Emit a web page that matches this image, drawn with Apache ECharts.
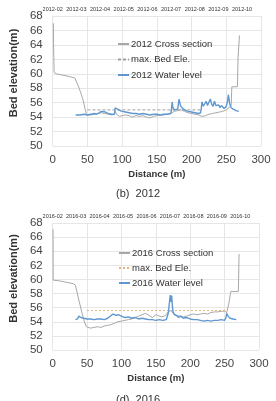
<!DOCTYPE html>
<html>
<head>
<meta charset="utf-8">
<script src="https://cdn.jsdelivr.net/npm/echarts@6/dist/echarts.min.js"></script>
<style>
  html, body { margin: 0; padding: 0; background: #fff; }
  #chart { width: 276px; height: 401px; }
</style>
</head>
<body>
<div id="chart"></div>
<script>
// top month labels
var months2012 = ['2012-02','2012-03','2012-04','2012-05','2012-06','2012-07','2012-08','2012-09','2012-10'];
var months2016 = ['2016-02','2016-03','2016-04','2016-05','2016-06','2016-07','2016-08','2016-09','2016-10'];

// 2012 [distance, elevation]
var cross2012 = [[1,67.0],[1.2,64.2],[2,60.2],[5,60.0],[15,59.8],[25,59.6],[32,59.4],[36,58.5],[40,57.5],[44,56.3],[47,55.0],[49,54.3],
  [55,54.3],[60,54.4],[65,54.5],[70,54.6],[75,54.5],[80,54.4],[85,54.3],[89,54.4],[90,54.8],[92,54.4],[96,54.1],[100,54.2],
  [105,54.3],[110,54.2],[115,54.0],[120,54.2],[125,54.1],[130,54.2],[135,54.0],[140,53.9],[145,54.1],[150,54.2],[155,54.3],
  [160,54.3],[165,54.4],[170,54.5],[175,54.8],[180,54.9],[185,55.0],[190,54.8],[195,54.6],[200,54.5],[205,54.4],[210,54.3],
  [215,54.1],[220,54.2],[225,54.4],[230,54.5],[235,54.6],[240,54.7],[245,54.8],[250,55.0],[254,55.3],[257,55.6],[258,58.2],
  [266,58.2],[267,62.3],[268,62.4],[269,65.3]];
var water2012 = [[33,54.3],[40,54.3],[45,54.4],[50,54.3],[55,54.4],[60,54.5],[63,54.4],[67,54.6],[70,54.8],[72,54.6],[76,54.7],
  [80,54.5],[85,54.4],[89,54.4],[90,55.3],[92,55.1],[95,55.0],[100,54.8],[105,54.7],[110,54.6],[115,54.5],[120,54.5],[125,54.4],
  [130,54.5],[135,54.4],[140,54.3],[145,54.4],[150,54.4],[155,54.3],[160,54.4],[165,54.4],[170,54.5],[171,55.0],[172,56.1],
  [173,55.4],[175,55.0],[177,54.9],[180,55.1],[182,56.5],[184,55.6],[187,55.2],[190,55.0],[195,54.8],[200,54.7],[205,54.6],
  [210,54.5],[213,54.6],[214,55.2],[215,56.1],[217,55.5],[219,55.3],[221,56.2],[223,55.6],[225,55.4],[227,56.5],[229,55.8],
  [231,55.5],[233,56.2],[235,55.6],[237,55.4],[239,55.7],[241,55.3],[243,55.6],[245,55.4],[247,55.2],[250,55.5],[252,56.3],
  [253,57.1],[255,55.8],[257,55.3],[260,55.1],[264,54.9],[268,54.8]];
var maxBed2012 = [[50,55.0],[215,55.0]];

// 2016 [distance, elevation]
var cross2016 = [[0.5,67.1],[0.7,59.9],[10,59.8],[20,59.6],[30,59.4],[33,59.2],[37,57.5],[42,55.5],[46,54.0],[49,53.3],[50,53.1],
  [55,53.1],[60,53.2],[65,53.3],[70,53.2],[75,53.4],[80,53.5],[85,53.6],[90,53.8],[95,54.0],[100,54.1],[105,54.2],[110,54.3],
  [115,54.4],[120,54.6],[125,54.8],[130,55.0],[135,55.2],[140,54.9],[145,54.6],[150,55.0],[153,54.9],[158,54.7],[162,54.8],
  [165,55.0],[168,55.4],[170,55.5],[172,55.6],[175,55.2],[180,54.9],[185,54.8],[190,54.7],[195,54.8],[200,55.0],[205,55.1],
  [210,55.0],[215,55.1],[220,55.2],[225,55.1],[230,55.3],[235,55.4],[240,55.4],[245,55.5],[250,55.5],[253,55.3],[256,56.5],
  [259,58.3],[270,58.3],[271,63.6]];
var water2016 = [[33,54.3],[36,54.4],[38,54.8],[41,54.6],[45,54.5],[50,54.4],[55,54.4],[60,54.3],[65,54.4],[70,54.4],[75,54.3],
  [80,54.5],[85,54.9],[88,55.1],[92,54.9],[95,55.0],[100,54.8],[105,54.6],[110,54.7],[115,54.5],[120,54.6],[125,54.4],[130,54.5],
  [135,54.4],[140,54.3],[145,54.3],[150,54.2],[155,54.3],[160,54.2],[165,54.3],[168,55.2],[170,55.4],[171,57.8],[172,56.8],
  [173,57.7],[174,56.3],[175,55.4],[177,55.0],[180,54.9],[183,54.6],[186,54.8],[190,54.5],[195,54.6],[200,54.4],[205,54.3],
  [210,54.3],[215,54.2],[220,54.1],[225,54.2],[230,54.1],[235,54.2],[240,54.2],[245,54.3],[250,54.2],[252,54.6],[253,55.2],
  [255,54.8],[258,54.5],[262,54.4],[267,54.3]];
var maxBed2016 = [[50,55.6],[253,55.6]];

var font = 'Liberation Sans';
var gridColor = '#e6e6e6';
var grayLine = '#a8a8a8';
var blueLine = '#5f97d0';

function bottomAxis(gridIndex) {
  return {
    type: 'value', gridIndex: gridIndex, min: 0, max: 300, interval: 50,
    name: 'Distance (m)', nameLocation: 'middle', nameGap: 23,
    nameTextStyle: { fontFamily: font, fontWeight: 'bold', fontSize: 9.5, color: '#333' },
    axisLine: { show: false }, axisTick: { show: false },
    axisLabel: { fontFamily: font, fontSize: 11.5, color: '#444', margin: 8 },
    splitLine: { show: true, lineStyle: { color: gridColor, width: 1 } }
  };
}
function monthAxis(gridIndex, months) {
  return {
    type: 'value', gridIndex: gridIndex, position: 'top', min: 0, max: 8.8, interval: 1,
    axisLine: { show: false }, axisTick: { show: false }, splitLine: { show: false },
    axisLabel: {
      fontFamily: font, fontSize: 5.5, color: '#333', margin: 4, showMaxLabel: false,
      formatter: function (v) { return Number.isInteger(v) ? months[v] : ''; }
    }
  };
}
function leftAxis(gridIndex) {
  return {
    type: 'value', gridIndex: gridIndex, min: 50, max: 68, interval: 2,
    name: 'Bed elevation(m)', nameLocation: 'middle', nameGap: 27,
    nameTextStyle: { fontFamily: font, fontWeight: 'bold', fontSize: 11, color: '#333', padding: [0, 0, 0, 16] },
    axisLine: { show: false }, axisTick: { show: false },
    axisLabel: { fontFamily: font, fontSize: 11.5, color: '#444', margin: 10 },
    splitLine: { show: true, lineStyle: { color: gridColor, width: 1 } }
  };
}

var option = {
  animation: false,
  backgroundColor: '#fff',
  title: [
    { text: '(b)  2012', left: 'center', top: 183, textStyle: { fontFamily: font, fontSize: 11, fontWeight: 'normal', color: '#333' } },
    { text: '(d)  2016', left: 'center', top: 389, textStyle: { fontFamily: font, fontSize: 11, fontWeight: 'normal', color: '#333' } }
  ],
  legend: [
    {
      orient: 'vertical', left: 112, top: 34, itemWidth: 11, itemHeight: 8, itemGap: 5.5,
      itemStyle: { opacity: 0 },
      textStyle: { fontFamily: font, fontSize: 9.5, color: '#333', padding: [0, 0, 0, -3] },
      data: ['2012 Cross section', 'max. Bed Ele.', '2012 Water level']
    },
    {
      orient: 'vertical', left: 113, top: 243, itemWidth: 11, itemHeight: 8, itemGap: 5,
      itemStyle: { opacity: 0 },
      textStyle: { fontFamily: font, fontSize: 9.5, color: '#333', padding: [0, 0, 0, -3] },
      formatter: function (name) { return name.replace(' (2016)', ''); },
      data: ['2016 Cross section', 'max. Bed Ele. (2016)', '2016 Water level']
    }
  ],
  grid: [
    { left: 40, top: 16, width: 221, height: 130 },
    { left: 41, top: 223, width: 218, height: 127 }
  ],
  xAxis: [bottomAxis(0), monthAxis(0, months2012), bottomAxis(1), monthAxis(1, months2016)],
  yAxis: [leftAxis(0), leftAxis(1)],
  series: [
    { name: '2012 Cross section', type: 'line', xAxisIndex: 0, yAxisIndex: 0, data: cross2012, symbol: 'none',
      lineStyle: { color: grayLine, width: 1 }, itemStyle: { color: grayLine } },
    { name: 'max. Bed Ele.', type: 'line', xAxisIndex: 0, yAxisIndex: 0, data: maxBed2012, symbol: 'none',
      lineStyle: { color: '#a0a0a0', width: 1, type: [3, 2] }, itemStyle: { color: '#a0a0a0' } },
    { name: '2012 Water level', type: 'line', xAxisIndex: 0, yAxisIndex: 0, data: water2012, symbol: 'none',
      lineStyle: { color: blueLine, width: 1.4 }, itemStyle: { color: blueLine } },
    { name: '2016 Cross section', type: 'line', xAxisIndex: 2, yAxisIndex: 1, data: cross2016, symbol: 'none',
      lineStyle: { color: grayLine, width: 1 }, itemStyle: { color: grayLine } },
    { name: 'max. Bed Ele. (2016)', type: 'line', xAxisIndex: 2, yAxisIndex: 1, data: maxBed2016, symbol: 'none',
      lineStyle: { color: '#e8b27a', width: 1, type: [2, 2] }, itemStyle: { color: '#e8b27a' } },
    { name: '2016 Water level', type: 'line', xAxisIndex: 2, yAxisIndex: 1, data: water2016, symbol: 'none',
      lineStyle: { color: blueLine, width: 1.4 }, itemStyle: { color: blueLine } }
  ]
};

var myChart = echarts.init(document.getElementById('chart'));
myChart.setOption(option);
</script>
</body>
</html>
